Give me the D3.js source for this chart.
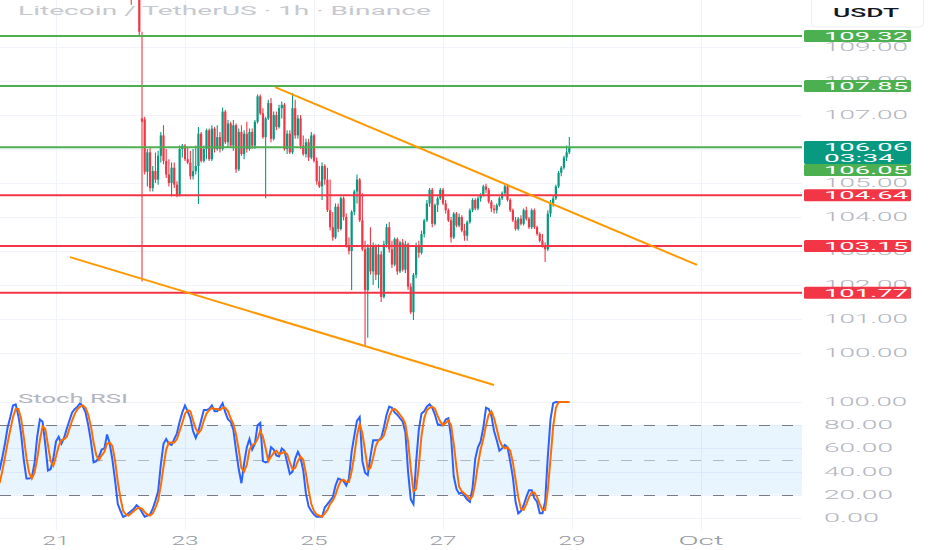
<!DOCTYPE html>
<html>
<head>
<meta charset="utf-8">
<script src="https://cdn.jsdelivr.net/npm/d3@7"></script>
<style>
  html, body { margin: 0; padding: 0; background: #fff; overflow: hidden; }
  text { font-family: Roboto, "Liberation Sans", sans-serif; }
</style>
</head>
<body>
<div id="chart"></div>
<script>
// ---- data ----
const title = "Litecoin / TetherUS · 1h · Binance";
const quoteCurrency = "USDT";

// hours counted from Sep 21 00:00
const firstCandleHour = 28;
// [open, high, low, close]
const sep22 = [
  [111.0, 111.6, 110.24, 110.9], [110.9, 111.4, 110.5, 111.1], [111.1, 111.5, 110.6, 111.2], [111.2, 111.3, 109.35, 109.45],
  [106.9, 109.45, 102.1, 106.8], [106.87, 106.95, 105.25, 105.33], [105.33, 106.0, 104.9, 105.9], [105.9, 106.05, 104.75, 104.85],
  [104.85, 105.5, 104.75, 105.35], [105.35, 105.9, 105.0, 105.1], [105.1, 105.95, 104.95, 105.8], [105.8, 106.5, 105.6, 106.4],
  [106.4, 106.7, 105.55, 105.65], [105.65, 106.0, 105.15, 105.25], [105.25, 105.7, 104.9, 105.0], [105.0, 105.6, 104.6, 105.45],
  [105.45, 105.6, 104.85, 104.95], [104.95, 105.05, 104.58, 104.65], [104.65, 106.1, 104.6, 106.0], [106.0, 106.15, 105.75, 106.1]
];
const sep23 = [
  [106.1, 106.15, 105.65, 105.7], [105.7, 106.05, 105.55, 105.6], [105.6, 105.95, 105.1, 105.2], [105.2, 106.0, 105.1, 105.35],
  [105.35, 106.1, 105.25, 105.5], [105.5, 106.65, 104.38, 106.45], [106.45, 106.5, 105.6, 105.65], [105.65, 106.1, 105.6, 106.0],
  [106.0, 106.6, 105.7, 106.55], [106.55, 106.6, 105.65, 105.7], [105.7, 106.7, 105.65, 106.6], [106.6, 106.65, 105.9, 106.0],
  [106.0, 106.7, 105.95, 106.35], [106.35, 106.5, 105.9, 106.0], [106.0, 107.22, 105.95, 107.1], [107.1, 107.15, 106.15, 106.2],
  [106.2, 106.85, 106.05, 106.75], [106.75, 106.8, 106.05, 106.1], [106.1, 106.85, 105.95, 106.7], [106.7, 106.75, 105.3, 105.4],
  [105.4, 106.6, 105.35, 106.5], [106.5, 106.7, 105.8, 105.85], [105.85, 106.55, 105.7, 106.45], [106.45, 106.8, 105.9, 106.0]
];
const sep24 = [
  [106.0, 106.6, 105.95, 106.5], [106.5, 106.6, 106.0, 106.1], [106.1, 106.85, 106.0, 106.8], [106.8, 107.6, 106.75, 107.55],
  [107.55, 107.6, 107.0, 107.05], [107.05, 107.2, 106.3, 106.35], [106.35, 106.95, 104.55, 106.9], [106.9, 107.45, 106.85, 107.35],
  [107.35, 107.5, 106.2, 106.3], [106.3, 107.1, 106.25, 107.0], [107.0, 107.1, 106.55, 106.65], [106.65, 107.3, 106.6, 107.2],
  [107.2, 107.4, 106.9, 107.3], [107.3, 107.35, 105.95, 106.0], [106.0, 106.55, 105.85, 106.45], [106.45, 106.55, 105.85, 105.9],
  [105.9, 107.65, 105.85, 107.2], [107.2, 107.45, 106.3, 106.4], [106.4, 107.0, 106.3, 106.9], [106.9, 107.0, 106.0, 106.1],
  [106.1, 106.4, 105.8, 105.85], [105.85, 106.3, 105.75, 106.2], [106.2, 106.3, 105.65, 105.75], [105.75, 106.5, 105.7, 106.4]
];
const sep25 = [
  [106.4, 106.45, 105.6, 105.65], [105.65, 105.75, 104.95, 105.05], [105.05, 105.5, 104.85, 104.9], [104.9, 105.6, 104.5, 105.5],
  [105.5, 105.55, 104.95, 105.1], [105.1, 105.45, 104.15, 104.2], [104.2, 105.1, 103.6, 103.7], [103.7, 104.15, 103.3, 103.4],
  [103.4, 104.4, 103.35, 104.3], [104.3, 104.4, 103.55, 103.65], [103.65, 104.6, 103.6, 104.55], [104.55, 104.6, 103.9, 104.0],
  [104.0, 104.1, 103.1, 103.15], [103.15, 103.4, 102.9, 103.0], [103.0, 104.2, 101.85, 104.15], [104.15, 104.8, 104.05, 104.75],
  [104.75, 105.25, 104.4, 105.1], [105.1, 105.15, 103.85, 103.9], [103.9, 104.7, 103.0, 103.05], [103.05, 103.3, 100.2, 101.85],
  [101.85, 103.2, 100.45, 103.1], [103.1, 103.7, 102.3, 102.4], [102.4, 103.25, 102.0, 103.15], [103.15, 103.2, 102.15, 102.3]
];
const sep26 = [
  [102.3, 103.2, 101.9, 102.9], [102.9, 103.0, 101.5, 101.65], [101.65, 103.3, 101.6, 103.2], [103.2, 103.8, 103.1, 103.7],
  [103.7, 103.85, 102.95, 103.05], [103.05, 103.3, 102.5, 102.6], [102.6, 103.4, 102.55, 103.35], [103.35, 103.4, 102.3, 102.4],
  [102.4, 103.3, 102.35, 103.25], [103.25, 103.35, 102.4, 102.45], [102.45, 103.3, 102.35, 103.2], [103.2, 103.25, 101.85, 101.95],
  [101.95, 102.05, 101.15, 101.2], [101.2, 102.35, 100.97, 102.3], [102.3, 103.25, 102.2, 103.15], [103.15, 103.3, 102.8, 102.95],
  [102.95, 103.6, 102.9, 103.5], [103.5, 103.95, 103.4, 103.9], [103.9, 104.5, 103.85, 104.4], [104.4, 104.85, 104.3, 104.8],
  [104.8, 104.85, 103.7, 103.8], [103.8, 104.4, 103.75, 104.35], [104.35, 104.6, 104.15, 104.55], [104.55, 104.85, 104.5, 104.8]
];
const sep27 = [
  [104.8, 104.85, 104.35, 104.4], [104.4, 104.5, 104.1, 104.2], [104.2, 104.25, 103.85, 103.9], [103.9, 104.0, 103.25, 103.4],
  [103.4, 104.15, 103.35, 104.1], [104.1, 104.15, 103.7, 103.75], [103.75, 104.1, 103.7, 104.0], [104.0, 104.05, 103.55, 103.6],
  [103.6, 103.8, 103.3, 103.45], [103.45, 103.9, 103.3, 103.85], [103.85, 104.25, 103.8, 104.2], [104.2, 104.55, 104.15, 104.5],
  [104.5, 104.55, 104.2, 104.25], [104.25, 104.6, 104.2, 104.55], [104.55, 104.7, 104.45, 104.65], [104.65, 104.95, 104.6, 104.9],
  [104.9, 104.98, 104.7, 104.8], [104.8, 104.85, 104.4, 104.45], [104.45, 104.5, 104.15, 104.25], [104.25, 104.35, 104.1, 104.2],
  [104.2, 104.4, 104.1, 104.35], [104.35, 104.6, 104.3, 104.55], [104.55, 104.75, 104.5, 104.7], [104.7, 104.95, 104.65, 104.9]
];
const sep28 = [
  [104.9, 104.92, 104.45, 104.5], [104.5, 104.55, 104.15, 104.2], [104.2, 104.25, 103.85, 103.9], [103.9, 104.0, 103.6, 103.65],
  [103.65, 104.0, 103.6, 103.95], [103.95, 104.05, 103.75, 103.8], [103.8, 104.25, 103.75, 104.2], [104.2, 104.3, 103.9, 103.95],
  [103.95, 104.0, 103.65, 103.7], [103.7, 104.25, 103.65, 104.2], [104.2, 104.25, 103.65, 103.7], [103.7, 103.75, 103.45, 103.5],
  [103.5, 103.55, 103.25, 103.3], [103.3, 103.5, 103.1, 103.15], [103.15, 103.25, 102.68, 103.05], [103.05, 104.2, 103.0, 104.1],
  [104.1, 104.5, 104.0, 104.4], [104.4, 104.65, 104.3, 104.55], [104.55, 104.95, 104.5, 104.9], [104.9, 105.35, 104.85, 105.3],
  [105.3, 105.5, 105.2, 105.45], [105.45, 105.8, 105.4, 105.75], [105.75, 106.1, 105.65, 105.9], [105.9, 106.35, 105.85, 106.06]
];

const lastPrice = 106.06;
const countdown = "03:34";

const greenLevels = [109.32, 107.85, 106.05];
const redLevels = [104.64, 103.15, 101.77];

// trend lines: [hour, price]
const upperTrend = [[81.5, 107.82], [238.5, 102.59]];
const lowerTrend = [[5.2, 102.82], [163, 99.06]];

// Stoch RSI, hourly from hour -21
const stochStartHour = -21;
const stochK = [
  41, 52, 64, 78, 87, 97, 98, 88, 73, 50, 34, 34, 35, 47, 70, 85, 83, 64, 41, 42, 51,
  66, 70, 64, 69, 77, 84, 91, 94, 96, 99, 96, 91, 80, 66, 48, 49, 53, 59, 60, 72, 64, 50, 32, 12,
  6, 1, 2, 4, 6, 8, 11, 9, 5, 1, 2, 3, 8, 15, 23, 46, 64, 68, 64, 63, 68, 73, 83, 91,
  97, 92, 86, 75, 69, 75, 84, 93, 93, 94, 97, 92, 92, 95, 99, 91, 85, 83, 76, 58, 42, 30, 47, 61,
  68, 59, 64, 80, 82, 49, 48, 49, 61, 59, 54, 53, 60, 58, 48, 38, 40, 51, 57, 52, 41, 21, 10, 6,
  3, 1, 1, 1, 9, 12, 15, 18, 28, 34, 33, 32, 28, 34, 57, 71, 84, 87, 49, 39, 37, 53, 67, 67,
  67, 69, 78, 89, 96, 95, 91, 89, 86, 83, 74, 40, 16, 12, 48, 76, 90, 92, 96, 98, 95, 89, 81, 80,
  80, 85, 86, 70, 36, 25, 21, 22, 19, 16, 14, 26, 51, 61, 66, 78, 95, 94, 88, 75, 67, 58, 60, 63,
  61, 49, 35, 14, 4, 6, 11, 18, 24, 24, 17, 14, 4, 4, 14, 53, 85, 99, 100, 100, 100, 100, 100, 100
];
const stochD = [
  30, 40, 52, 65, 76, 87, 94, 94, 86, 70, 52, 39, 34, 39, 51, 67, 79, 77, 63, 49, 45,
  53, 62, 67, 68, 70, 77, 84, 90, 94, 96, 97, 95, 89, 79, 65, 54, 50, 54, 57, 64, 65, 62, 49, 31,
  17, 6, 3, 2, 4, 6, 8, 9, 8, 5, 3, 2, 4, 9, 15, 28, 44, 59, 65, 65, 65, 68, 75, 82,
  90, 93, 92, 84, 77, 73, 76, 84, 90, 93, 95, 94, 94, 93, 95, 95, 92, 86, 81, 72, 59, 43, 40, 46,
  59, 63, 64, 68, 75, 70, 60, 49, 53, 56, 58, 55, 56, 57, 55, 48, 42, 43, 49, 53, 50, 38, 24, 12,
  6, 3, 2, 1, 4, 7, 12, 15, 20, 27, 32, 33, 31, 31, 40, 54, 71, 81, 73, 58, 42, 43, 52, 62,
  67, 68, 71, 79, 88, 93, 94, 92, 89, 86, 81, 66, 43, 23, 25, 45, 71, 86, 93, 95, 96, 94, 88, 83,
  80, 82, 84, 80, 64, 44, 27, 23, 21, 19, 16, 19, 30, 46, 59, 68, 80, 89, 92, 86, 77, 67, 62, 60,
  61, 58, 48, 33, 18, 8, 7, 12, 18, 22, 22, 18, 12, 7, 7, 24, 51, 79, 95, 100, 100, 100, 100, 100
];
const stochLevels = [80, 50, 20];

const priceTicks = [109, 108, 107, 106, 105, 104, 103, 102, 101, 100];
// 106.00 sits fully under the last price box
const priceTickLabels = [109, 108, 107, 105, 104, 103, 102, 101, 100];
const stochTicks = [100, 80, 60, 40, 20, 0];
const dateTicks = ["2024-09-21", "2024-09-23", "2024-09-25", "2024-09-27", "2024-09-29", "2024-10-01"];
const dateLabels = ["21", "23", "25", "27", "29", "Oct"];

// ---- layout ----
const width = 932, height = 550;
const plotRight = 802;
const priceBottom = 391;
const stochTop = 392, stochBottom = 530;
const axisTextX = 824;

const t0 = Date.UTC(2024, 8, 21);
const hourToDate = h => new Date(t0 + h * 3600e3);

const candles = [sep22, sep23, sep24, sep25, sep26, sep27, sep28].flat()
  .map((d, i) => ({ t: hourToDate(firstCandleHour + i), o: d[0], h: d[1], l: d[2], c: d[3] }));

const x = d3.scaleUtc()
  .domain([new Date(t0), new Date(Date.UTC(2024, 9, 1))])
  .range([56, 701]);
const yP = d3.scaleLinear().domain([100, 109]).range([353, 47]);
const yS = d3.scaleLinear().domain([0, 100]).range([518, 402]);

const green = "#089981", red = "#f23645";
const levelGreen = "#4caf50";
const axisGrey = "#b2b5be";

const svg = d3.select("#chart").append("svg")
  .attr("width", width)
  .attr("height", height)
  .style("display", "block")
  .style("background", "#fff");

const defs = svg.append("defs");
defs.append("clipPath").attr("id", "clip-price")
  .append("rect").attr("x", 0).attr("y", 0).attr("width", plotRight).attr("height", priceBottom);
defs.append("clipPath").attr("id", "clip-stoch")
  .append("rect").attr("x", 0).attr("y", stochTop).attr("width", plotRight).attr("height", stochBottom - stochTop);

// stretched text, the screenshot is wide
function wide(sel, w) {
  return sel.attr("textLength", w).attr("lengthAdjust", "spacingAndGlyphs");
}

// grid
const grid = svg.append("g").attr("stroke", "#f0f3fa").attr("stroke-width", 1);
grid.selectAll(".vg")
  .data(dateTicks)
  .join("line")
  .attr("x1", d => Math.round(x(new Date(d))) + 0.5)
  .attr("x2", d => Math.round(x(new Date(d))) + 0.5)
  .attr("y1", 0)
  .attr("y2", stochBottom);
grid.selectAll(".hg")
  .data(priceTicks)
  .join("line")
  .attr("x1", 0).attr("x2", plotRight)
  .attr("y1", d => Math.round(yP(d)) + 0.5)
  .attr("y2", d => Math.round(yP(d)) + 0.5);
grid.append("g").selectAll("line")
  .data(stochTicks)
  .join("line")
  .attr("x1", 0).attr("x2", plotRight)
  .attr("y1", d => Math.round(yS(d)) + 0.5)
  .attr("y2", d => Math.round(yS(d)) + 0.5);

// price pane
const pricePane = svg.append("g").attr("clip-path", "url(#clip-price)");

const candle = pricePane.append("g").selectAll("g")
  .data(candles)
  .join("g")
  .attr("fill", d => d.c >= d.o ? green : red)
  .attr("stroke", d => d.c >= d.o ? green : red);

candle.append("line")
  .attr("x1", d => x(d.t))
  .attr("x2", d => x(d.t))
  .attr("y1", d => yP(d.h))
  .attr("y2", d => yP(d.l))
  .attr("stroke-width", 1.1);

candle.append("rect")
  .attr("stroke", "none")
  .attr("x", d => x(d.t) - 1.1)
  .attr("width", 2.2)
  .attr("y", d => yP(Math.max(d.o, d.c)))
  .attr("height", d => Math.max(1, Math.abs(yP(d.o) - yP(d.c))));

pricePane.append("g").selectAll("line")
  .data(greenLevels)
  .join("line")
  .attr("x1", 0).attr("x2", plotRight)
  .attr("y1", d => yP(d)).attr("y2", d => yP(d))
  .attr("stroke", levelGreen)
  .attr("stroke-width", 2);

pricePane.append("g").selectAll("line")
  .data(redLevels)
  .join("line")
  .attr("x1", 0).attr("x2", plotRight)
  .attr("y1", d => yP(d)).attr("y2", d => yP(d))
  .attr("stroke", red)
  .attr("stroke-width", 2);

const trendLine = d3.line()
  .x(d => x(hourToDate(d[0])))
  .y(d => yP(d[1]));

pricePane.append("g").selectAll("path")
  .data([upperTrend, lowerTrend])
  .join("path")
  .attr("d", trendLine)
  .attr("fill", "none")
  .attr("stroke", "#ff9800")
  .attr("stroke-width", 2);

wide(svg.append("text")
  .attr("x", 18).attr("y", 15)
  .attr("font-size", 12)
  .attr("fill", "#c5c8ce")
  .text(title), 413);

// stoch pane
const stochPane = svg.append("g").attr("clip-path", "url(#clip-stoch)");

stochPane.append("rect")
  .attr("x", 0).attr("width", plotRight)
  .attr("y", yS(80)).attr("height", yS(20) - yS(80))
  .attr("fill", "rgba(33,150,243,0.1)");

stochPane.append("g").selectAll("line")
  .data(stochLevels)
  .join("line")
  .attr("x1", 0).attr("x2", plotRight)
  .attr("y1", d => Math.round(yS(d)) + 0.5)
  .attr("y2", d => Math.round(yS(d)) + 0.5)
  .attr("stroke", "#787b86")
  .attr("stroke-opacity", d => d === 50 ? 0.5 : 1)
  .attr("stroke-dasharray", "11,12");

const stochLine = d3.line()
  .x((d, i) => x(hourToDate(stochStartHour + i)))
  .y(d => yS(d));

stochPane.append("path")
  .datum(stochK)
  .attr("d", stochLine)
  .attr("fill", "none")
  .attr("stroke", "#2962ff")
  .attr("stroke-width", 2);

stochPane.append("path")
  .datum(stochD)
  .attr("d", stochLine)
  .attr("fill", "none")
  .attr("stroke", "#ff6d00")
  .attr("stroke-width", 2);

wide(svg.append("text")
  .attr("x", 18).attr("y", 403)
  .attr("font-size", 12)
  .attr("fill", axisGrey)
  .text("Stoch RSI"), 110);

// right axis
const axis = svg.append("g");

axis.append("rect")
  .attr("x", 811.5).attr("y", -4)
  .attr("width", 112).attr("height", 31)
  .attr("rx", 4)
  .attr("fill", "#fff")
  .attr("stroke", "#eceef2");
wide(axis.append("text")
  .attr("x", 866).attr("y", 17)
  .attr("text-anchor", "middle")
  .attr("font-size", 12)
  .attr("font-weight", 500)
  .attr("fill", "#131722")
  .text(quoteCurrency), 66);

axis.append("g").selectAll("text")
  .data(priceTickLabels)
  .join("text")
  .attr("x", axisTextX)
  .attr("y", d => yP(d) + 4)
  .attr("font-size", 12)
  .attr("font-weight", 300)
  .attr("fill", axisGrey)
  .attr("textLength", 84)
  .attr("lengthAdjust", "spacingAndGlyphs")
  .text(d => d.toFixed(2));

axis.append("g").selectAll("text")
  .data(stochTicks)
  .join("text")
  .attr("x", axisTextX)
  .attr("y", d => yS(d) + 4)
  .attr("font-size", 12)
  .attr("font-weight", 300)
  .attr("fill", axisGrey)
  .attr("textLength", d => d.toFixed(2).length * 14 - 1)
  .attr("lengthAdjust", "spacingAndGlyphs")
  .text(d => d.toFixed(2));

// level labels
const levelLabels = greenLevels.map(p => ({ p, color: levelGreen }))
  .concat(redLevels.map(p => ({ p, color: red })));

// the 106.05 label sits under the last price box
const boxTop = p => p === greenLevels[2] ? yP(lastPrice) + 17 : yP(p) - 6;

const lab = axis.append("g").selectAll("g")
  .data(levelLabels)
  .join("g");
lab.append("rect")
  .attr("x", 804).attr("width", 107)
  .attr("y", d => boxTop(d.p))
  .attr("height", 12)
  .attr("rx", 1.5)
  .attr("fill", d => d.color);
lab.append("text")
  .attr("x", axisTextX)
  .attr("y", d => boxTop(d.p) + 10)
  .attr("font-size", 11)
  .attr("fill", "#fff")
  .attr("textLength", 84)
  .attr("lengthAdjust", "spacingAndGlyphs")
  .text(d => d.p.toFixed(2));

// last price box
const lastY = yP(lastPrice);
axis.append("rect")
  .attr("x", 804).attr("width", 107)
  .attr("y", lastY - 6).attr("height", 23)
  .attr("rx", 1.5)
  .attr("fill", green);
wide(axis.append("text")
  .attr("x", axisTextX).attr("y", lastY + 4)
  .attr("font-size", 11)
  .attr("fill", "#fff")
  .text(lastPrice.toFixed(2)), 84);
wide(axis.append("text")
  .attr("x", axisTextX).attr("y", lastY + 15)
  .attr("font-size", 10)
  .attr("fill", "#fff")
  .text(countdown), 70);

// time axis
svg.append("g").selectAll("text")
  .data(dateTicks)
  .join("text")
  .attr("x", d => x(new Date(d)))
  .attr("y", 545)
  .attr("text-anchor", "middle")
  .attr("font-size", 12)
  .attr("font-weight", 300)
  .attr("fill", "#9598a1")
  .attr("textLength", (d, i) => dateLabels[i].length === 3 ? 45 : 27)
  .attr("lengthAdjust", "spacingAndGlyphs")
  .text((d, i) => dateLabels[i]);
</script>
</body>
</html>
